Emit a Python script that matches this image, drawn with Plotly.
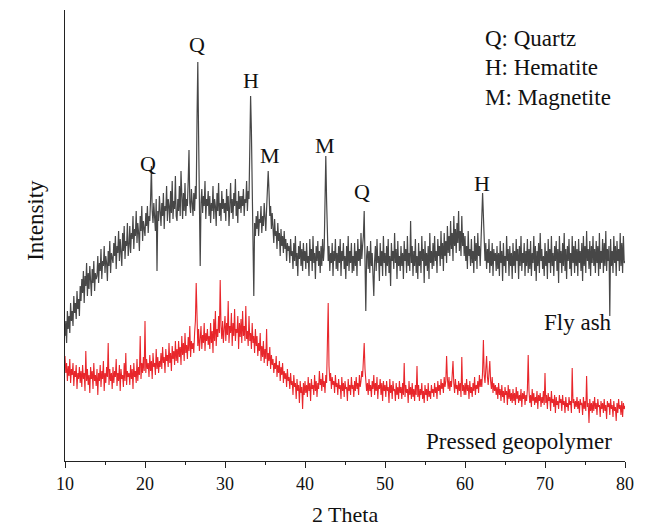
import numpy as np
import plotly.graph_objects as go

# 2-theta sampling grid (degrees), 0.1 deg step
two_theta = np.round(np.arange(10.0, 80.0001, 0.1), 1)

# Fly ash intensity (arbitrary units); one row = 2 degrees
fly_ash = [
    125, 140, 118, 150, 132, 145, 128, 158, 140, 150, 135, 165, 148, 158, 142, 170, 152, 162, 145, 175,
    160, 182, 168, 190, 158, 185, 175, 198, 165, 188, 172, 195, 180, 165, 192, 178, 200, 170, 188, 182,
    185, 205, 178, 198, 190, 212, 182, 200, 195, 215, 188, 205, 198, 180, 210, 195, 220, 188, 208, 200,
    198, 218, 205, 225, 192, 215, 208, 230, 200, 222, 212, 195, 228, 210, 235, 202, 220, 215, 238, 205,
    215, 235, 208, 228, 222, 245, 212, 232, 225, 250, 218, 238, 228, 210, 245, 230, 255, 220, 240, 232,
    225, 248, 235, 255, 228, 245, 240, 262, 295, 250, 238, 258, 245, 230, 262, 190, 250, 240, 265, 245,
    235, 258, 245, 268, 232, 255, 250, 275, 240, 262, 255, 238, 270, 248, 280, 242, 260, 252, 285, 245,
    240, 262, 250, 275, 245, 290, 255, 242, 268, 250, 278, 245, 262, 255, 280, 311, 258, 248, 272, 252,
    245, 268, 250, 275, 262, 340, 399, 325, 265, 195, 258, 272, 248, 265, 255, 280, 242, 262, 255, 270,
    245, 265, 238, 258, 250, 275, 242, 262, 255, 235, 268, 250, 278, 245, 258, 240, 270, 252, 262, 248,
    258, 240, 272, 250, 265, 235, 255, 278, 248, 262, 242, 268, 255, 282, 245, 260, 238, 270, 252, 265,
    248, 265, 255, 272, 245, 262, 258, 280, 250, 270, 262, 320, 365, 330, 280, 242, 165, 238, 225, 245,
    232, 250, 225, 242, 238, 255, 228, 245, 235, 258, 240, 230, 252, 265, 290, 270, 245, 255, 232, 248,
    235, 218, 242, 225, 230, 212, 238, 220, 228, 205, 232, 215, 225, 208, 230, 212, 222, 200, 218, 210,
    215, 198, 222, 205, 210, 192, 218, 200, 225, 195, 208, 185, 215, 202, 220, 195, 212, 190, 218, 200,
    210, 192, 218, 198, 205, 185, 222, 200, 212, 190, 225, 198, 208, 182, 215, 200, 220, 195, 210, 188,
    215, 195, 222, 200, 212, 255, 305, 260, 225, 200, 215, 190, 208, 198, 218, 185, 210, 200, 222, 192,
    208, 190, 215, 198, 222, 185, 210, 200, 218, 192, 205, 182, 215, 195, 225, 190, 210, 198, 218, 188,
    205, 190, 218, 195, 210, 185, 222, 200, 212, 195, 228, 202, 215, 225, 250, 215, 150, 205, 215, 192,
    210, 188, 220, 195, 208, 185, 165, 200, 215, 190, 222, 198, 205, 180, 218, 195, 210, 185, 225, 198,
    208, 185, 215, 195, 222, 188, 205, 175, 218, 200, 210, 192, 228, 198, 212, 182, 220, 195, 205, 190,
    215, 195, 208, 182, 220, 200, 212, 188, 225, 195, 208, 190, 240, 198, 215, 185, 210, 195, 222, 188,
    205, 182, 218, 195, 210, 188, 225, 200, 212, 178, 220, 195, 208, 190, 215, 182, 228, 198, 210, 192,
    218, 195, 225, 200, 210, 188, 222, 205, 215, 195, 230, 202, 218, 190, 228, 205, 220, 198, 235, 208,
    225, 205, 240, 212, 228, 200, 245, 215, 232, 208, 238, 218, 250, 210, 230, 205, 245, 215, 228, 205,
    225, 200, 215, 192, 230, 205, 212, 195, 222, 198, 210, 188, 225, 200, 218, 192, 228, 205, 215, 195,
    215, 230, 268, 245, 225, 200, 218, 192, 212, 198, 222, 188, 210, 195, 218, 185, 212, 200, 208, 190,
    215, 192, 208, 185, 220, 198, 210, 180, 218, 195, 205, 188, 225, 200, 212, 185, 215, 195, 208, 182,
    218, 195, 210, 188, 222, 200, 212, 182, 215, 195, 225, 190, 208, 198, 218, 185, 210, 195, 222, 188,
    212, 192, 220, 185, 208, 198, 225, 190, 215, 180, 210, 195, 218, 188, 228, 200, 212, 192, 205, 185,
    218, 195, 210, 182, 222, 198, 212, 188, 225, 195, 208, 185, 215, 200, 220, 190, 212, 178, 225, 198,
    210, 188, 218, 195, 228, 190, 212, 182, 215, 200, 222, 192, 208, 185, 225, 198, 215, 188, 220, 195,
    212, 185, 222, 198, 210, 190, 218, 180, 225, 195, 215, 188, 230, 200, 212, 192, 220, 185, 215, 198,
    225, 195, 212, 188, 220, 198, 215, 185, 228, 192, 210, 198, 222, 188, 218, 195, 230, 190, 212, 200,
    215, 145, 222, 195, 210, 188, 225, 198, 215, 185, 220, 200, 212, 190, 228, 195, 218, 188, 225, 198,
    200,
]

# Pressed geopolymer intensity (arbitrary units); one row = 2 degrees
geopolymer = [
    105, 88, 98, 80, 95, 85, 102, 78, 92, 86, 98, 75, 90, 84, 96, 72, 88, 82, 94, 78,
    90, 74, 96, 82, 88, 70, 110, 80, 92, 76, 86, 68, 94, 82, 90, 72, 98, 80, 86, 75,
    92, 66, 88, 80, 96, 74, 90, 82, 100, 70, 88, 78, 94, 84, 118, 76, 92, 80, 88, 72,
    94, 78, 90, 84, 102, 75, 88, 80, 96, 70, 92, 82, 86, 74, 98, 80, 108, 76, 90, 84,
    88, 76, 96, 82, 92, 72, 98, 84, 90, 78, 102, 80, 94, 86, 125, 82, 98, 88, 104, 90,
    140, 88, 102, 92, 98, 84, 106, 90, 100, 82, 108, 94, 98, 86, 112, 92, 104, 88, 100, 94,
    108, 92, 114, 98, 104, 88, 112, 100, 106, 94, 118, 98, 108, 90, 115, 102, 110, 96, 120, 100,
    112, 98, 120, 104, 114, 96, 125, 106, 118, 100, 128, 108, 116, 102, 124, 110, 135, 104, 120, 112,
    118, 108, 128, 140, 178, 125, 115, 132, 110, 122, 135, 112, 126, 118, 138, 110, 128, 120, 132, 116,
    125, 112, 138, 118, 130, 108, 142, 120, 150, 115, 132, 124, 145, 128, 181, 135, 122, 140, 118, 132,
    145, 120, 138, 126, 160, 118, 135, 128, 148, 115, 138, 125, 152, 120, 132, 128, 145, 112, 138, 124,
    142, 118, 150, 125, 135, 120, 155, 122, 130, 115, 145, 120, 128, 112, 138, 118, 125, 108, 132, 115,
    125, 105, 118, 110, 128, 100, 115, 104, 120, 98, 112, 102, 132, 95, 108, 100, 114, 92, 106, 96,
    102, 88, 98, 92, 105, 84, 96, 88, 100, 80, 94, 86, 98, 78, 90, 82, 88, 74, 92, 80,
    84, 72, 88, 76, 80, 66, 86, 74, 78, 62, 82, 70, 76, 58, 80, 68, 74, 52, 78, 66,
    80, 68, 76, 64, 84, 70, 78, 60, 82, 72, 76, 66, 86, 70, 80, 64, 78, 72, 90, 76,
    82, 70, 88, 74, 80, 68, 86, 78, 110, 158, 95, 80, 88, 72, 84, 76, 80, 68, 86, 74,
    78, 66, 82, 72, 76, 62, 84, 70, 78, 64, 80, 72, 74, 60, 82, 70, 76, 66, 84, 72,
    76, 64, 80, 70, 84, 72, 78, 66, 86, 74, 80, 90, 84, 96, 118, 92, 80, 70, 78, 66,
    82, 70, 76, 64, 80, 72, 86, 66, 78, 70, 84, 62, 76, 72, 82, 66, 78, 60, 80, 70,
    76, 64, 80, 70, 74, 58, 82, 68, 76, 62, 80, 70, 72, 60, 78, 66, 74, 62, 80, 68,
    74, 62, 78, 66, 98, 64, 76, 68, 72, 58, 80, 66, 74, 62, 78, 64, 72, 60, 76, 66,
    95, 64, 76, 60, 72, 66, 78, 62, 70, 58, 76, 66, 72, 60, 78, 64, 70, 62, 76, 68,
    72, 64, 78, 68, 74, 62, 80, 70, 76, 66, 82, 72, 78, 68, 84, 74, 80, 105, 82, 72,
    84, 70, 80, 74, 86, 100, 78, 68, 82, 72, 76, 66, 80, 70, 78, 64, 104, 70, 76, 66,
    78, 66, 82, 70, 76, 62, 80, 68, 74, 64, 78, 70, 84, 66, 76, 72, 80, 68, 86, 74,
    82, 74, 90, 121, 86, 78, 92, 105, 84, 76, 88, 100, 80, 72, 84, 68, 78, 70, 76, 66,
    74, 62, 78, 66, 72, 60, 76, 64, 70, 58, 74, 66, 70, 56, 76, 62, 72, 60, 68, 58,
    72, 60, 68, 56, 74, 62, 70, 58, 66, 60, 72, 54, 68, 62, 70, 56, 66, 60, 72, 106,
    70, 58, 66, 54, 72, 60, 68, 56, 64, 58, 70, 52, 66, 60, 68, 54, 64, 58, 70, 56,
    88, 58, 66, 52, 68, 60, 64, 50, 70, 58, 62, 54, 66, 48, 64, 56, 60, 52, 66, 58,
    62, 50, 66, 56, 60, 48, 64, 54, 58, 50, 64, 56, 60, 48, 93, 58, 62, 52, 60, 54,
    64, 52, 60, 48, 62, 56, 58, 46, 64, 52, 60, 50, 85, 54, 58, 38, 62, 50, 58, 48,
    60, 50, 64, 52, 58, 46, 62, 54, 56, 44, 60, 52, 58, 48, 62, 50, 56, 42, 60, 54,
    58, 46, 62, 52, 56, 44, 60, 50, 54, 40, 58, 48, 62, 52, 56, 46, 60, 44, 58, 52,
    55,
]

assert len(fly_ash) == len(two_theta), ("fly_ash", len(fly_ash), len(two_theta))
assert len(geopolymer) == len(two_theta), ("geopolymer", len(geopolymer), len(two_theta))

# Peak labels
peak_labels = ["Q", "Q", "H", "M", "M", "Q", "H"]
peak_x = [20.4, 26.5, 33.25, 35.6, 42.5, 47.1, 62.1]
peak_y = [298, 417, 381, 306, 316, 270, 278]

legend_lines = ["Q: Quartz", "H: Hematite", "M: Magnetite"]
series_names = ["Fly ash", "Pressed geopolymer"]
axis_titles = ["2 Theta", "Intensity"]

x_ticks = [10, 20, 30, 40, 50, 60, 70, 80]

FONT = "Liberation Serif, Times New Roman, serif"
BIG = 23

fig = go.Figure()
fig.add_trace(go.Scatter(x=two_theta, y=fly_ash, mode="lines",
                         line=dict(color="#474747", width=1.2), name=series_names[0]))
fig.add_trace(go.Scatter(x=two_theta, y=geopolymer, mode="lines",
                         line=dict(color="#e8262b", width=1.1), name=series_names[1]))

annotations = []
for lab, px, py in zip(peak_labels, peak_x, peak_y):
    annotations.append(dict(x=px, y=py, xref="x", yref="y", text=lab, showarrow=False,
                            font=dict(family=FONT, size=BIG - 1, color="#111")))
for i, t in enumerate(legend_lines):
    annotations.append(dict(x=62.2, y=423 - 29.5 * i, xref="x", yref="y", text=t,
                            showarrow=False, xanchor="left",
                            font=dict(family=FONT, size=BIG, color="#111")))
annotations.append(dict(x=78.6, y=139, xref="x", yref="y", text=series_names[0],
                        showarrow=False, xanchor="right",
                        font=dict(family=FONT, size=BIG, color="#111")))
annotations.append(dict(x=78.6, y=20, xref="x", yref="y", text=series_names[1],
                        showarrow=False, xanchor="right",
                        font=dict(family=FONT, size=BIG, color="#111")))
annotations.append(dict(x=-0.08, y=0.534, xref="paper", yref="paper", text=axis_titles[1],
                        textangle=-90, showarrow=False,
                        font=dict(family=FONT, size=BIG, color="#111")))
annotations.append(dict(x=0.5, y=-0.118, xref="paper", yref="paper", yanchor="middle",
                        text=axis_titles[0], showarrow=False,
                        font=dict(family=FONT, size=22, color="#111")))

fig.update_layout(
    width=649, height=531,
    margin=dict(l=65, r=24, t=10, b=70),
    paper_bgcolor="white", plot_bgcolor="white",
    showlegend=False,
    annotations=annotations,
    font=dict(family=FONT, color="#111"),
)
fig.update_xaxes(range=[10, 80], tickvals=x_ticks, ticks="outside", ticklen=6,
                 tickwidth=1.2, tickcolor="#222", showline=True, linecolor="#222",
                 linewidth=1.2, showgrid=False, zeroline=False,
                 tickfont=dict(family=FONT, size=18, color="#111"),
                 minor=dict(dtick=5, tick0=15, ticks="outside", ticklen=3, tickcolor="#222"))
fig.update_yaxes(range=[0, 451], showticklabels=False, ticks="", showline=True,
                 linecolor="#222", linewidth=1.2, showgrid=False, zeroline=False)

fig.write_html("out.html")
